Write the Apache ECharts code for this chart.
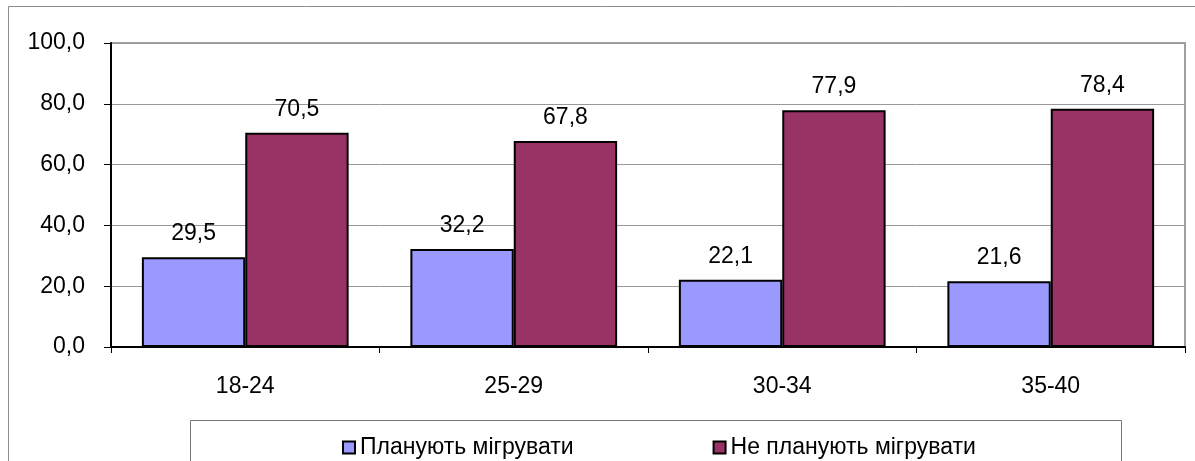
<!DOCTYPE html>
<html>
<head>
<meta charset="utf-8">
<script src="https://cdn.jsdelivr.net/npm/echarts@6/dist/echarts.min.js"></script>
<style>
  html, body { margin: 0; padding: 0; background: #fff; }
  #chart { width: 1195px; height: 461px; }
</style>
</head>
<body>
<div id="chart"></div>
<script>
var categories = ['18-24', '25-29', '30-34', '35-40'];
var seriesNames = ['Планують мігрувати', 'Не планують мігрувати'];
var planValues = [29.5, 32.2, 22.1, 21.6];
var notPlanValues = [70.5, 67.8, 77.9, 78.4];

var chart = echarts.init(document.getElementById('chart'));
var fontFamily = '"Liberation Sans", Arial, sans-serif';
var fontSize = 23;

// число з комою
function fmt(v) {
  return Number(v).toFixed(1).replace('.', ',');
}

var option = {
  animation: false,
  textStyle: { fontFamily: fontFamily },
  graphic: [
    // зовнішня рамка
    { type: 'rect', shape: { x: 8.5, y: 6.5, width: 1200, height: 470 },
      style: { fill: 'none', stroke: '#8c8c8c', lineWidth: 1 }, silent: true },
    // рамка легенди
    { type: 'rect', shape: { x: 190.5, y: 420.5, width: 931, height: 60 },
      style: { fill: '#fff', stroke: '#777', lineWidth: 1 }, silent: true, z: -1 }
  ],
  grid: {
    left: 111, right: 10, top: 43, bottom: 114,
    show: true, borderColor: '#a0a0a0', borderWidth: 2
  },
  legend: {
    left: 337, top: 431,
    itemWidth: 12, itemHeight: 12, itemGap: 139,
    icon: 'rect',
    textStyle: { fontSize: fontSize, color: '#000', fontFamily: fontFamily },
    data: seriesNames
  },
  xAxis: {
    type: 'category',
    data: categories,
    axisLine: { lineStyle: { color: '#000', width: 2 } },
    axisTick: { show: true, length: 6, lineStyle: { color: '#000' } },
    axisLabel: { fontSize: fontSize, color: '#000', margin: 28 }
  },
  yAxis: {
    type: 'value',
    min: 0, max: 100, interval: 20,
    axisLine: { show: true, lineStyle: { color: '#000', width: 2 } },
    axisTick: { show: true, length: 7, lineStyle: { color: '#000' } },
    axisLabel: { fontSize: fontSize, color: '#000', margin: 26, formatter: fmt },
    splitLine: { lineStyle: { color: '#999', width: 1 } }
  },
  series: [
    {
      name: seriesNames[0],
      type: 'bar',
      data: planValues,
      barGap: '0%',
      barCategoryGap: '23%',
      itemStyle: { color: '#9999FF', borderColor: '#000', borderWidth: 2 },
      label: { show: true, position: 'top', distance: 12, fontSize: fontSize, color: '#000',
        formatter: function (p) { return fmt(p.value); } }
    },
    {
      name: seriesNames[1],
      type: 'bar',
      data: notPlanValues,
      itemStyle: { color: '#993366', borderColor: '#000', borderWidth: 2 },
      label: { show: true, position: 'top', distance: 12, fontSize: fontSize, color: '#000',
        formatter: function (p) { return fmt(p.value); } }
    }
  ]
};
chart.setOption(option);
</script>
</body>
</html>
